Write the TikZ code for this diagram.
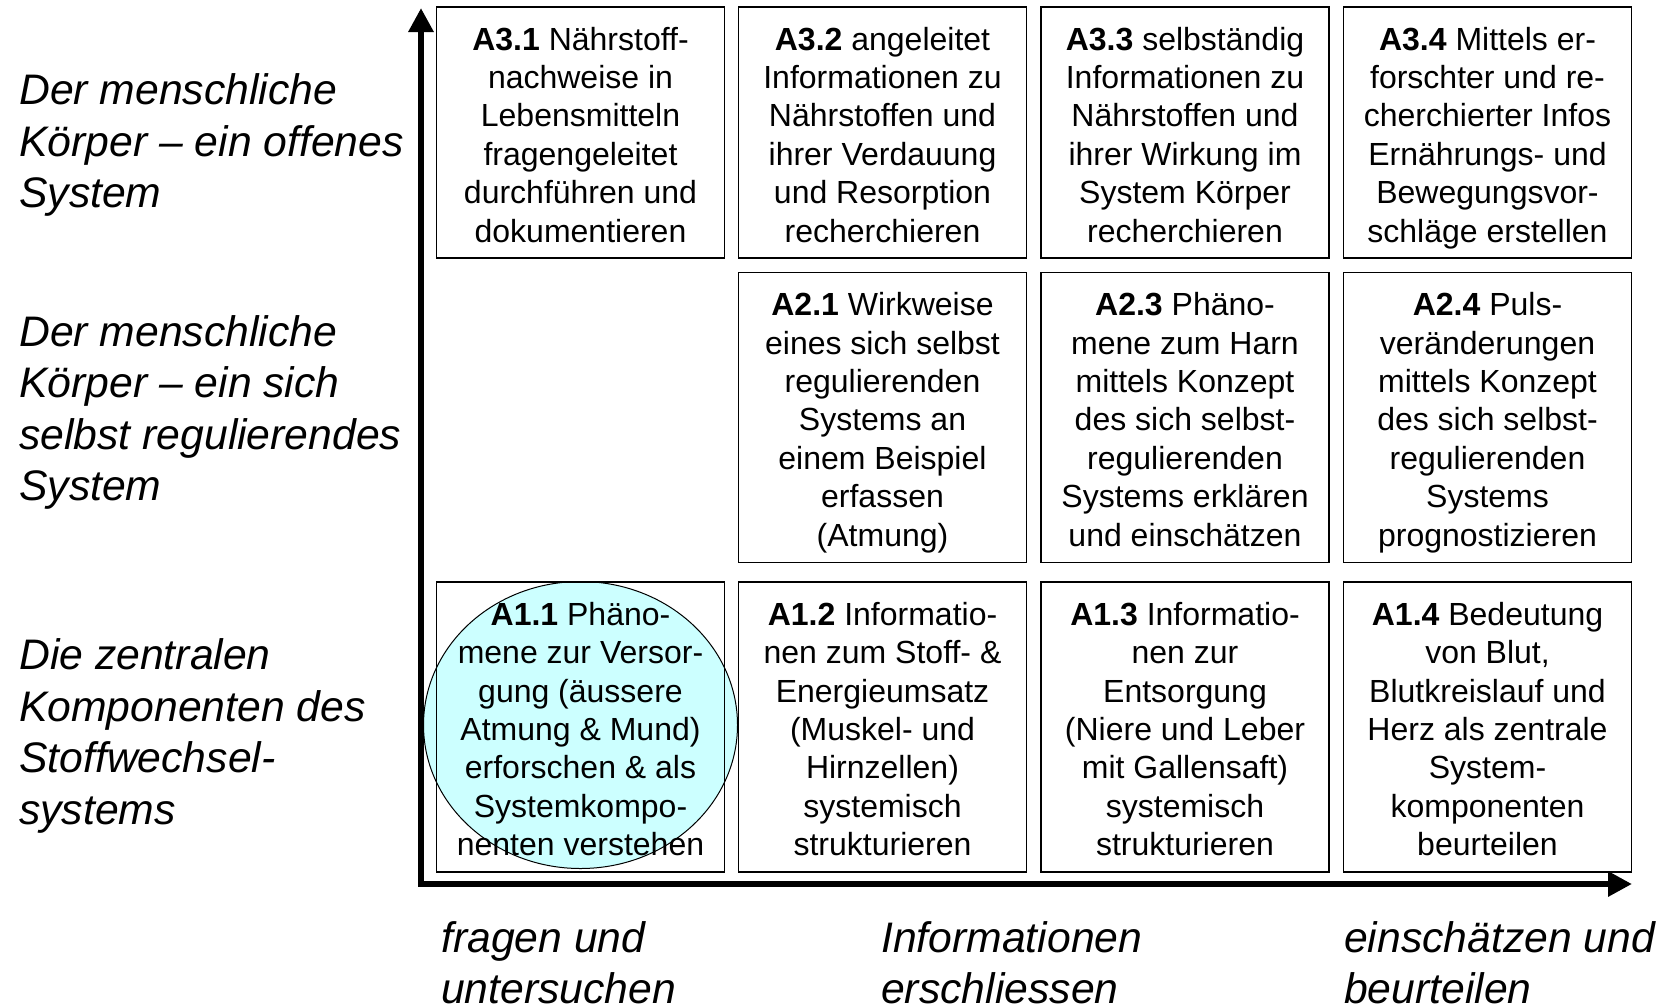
\documentclass[tikz,border=0pt]{standalone}
\usepackage{fontspec}
\setmainfont{Liberation Sans}
\usetikzlibrary{arrows.meta,shapes.geometric}
\definecolor{lightcyan}{HTML}{CCFFFF}
\begin{document}
\begin{tikzpicture}[x=1pt,y=-1pt,
  cell/.style={draw=black, line width=1.8pt, minimum width=288pt, minimum height=251pt,
    inner sep=0pt, outer sep=0pt},
  lowcell/.style={cell, minimum height=290pt},
  celltext/.style={anchor=north, align=center, inner sep=0pt, outer sep=0pt,
    font=\fontsize{32}{38.4}\selectfont,
    execute at begin node={\rule{0pt}{32pt}}},
  rowlabel/.style={anchor=west, align=left, inner sep=0pt, font=\fontsize{42.7}{51.4}\selectfont\itshape},
  axisline/.style={line width=6pt, line cap=rect, -{Triangle[length=24pt,width=24pt]}},
  ]
\useasboundingbox (0,0) rectangle (1662,1005);

% highlight ellipse
\node[draw=black, line width=1pt, fill=lightcyan, ellipse, minimum width=314pt, minimum height=287pt, inner sep=0pt] (hl) at (580.5,725) {};

% axes
\coordinate (origin) at (421,884);
\coordinate (ytip) at (421,8);
\coordinate (xtip) at (1632,884);
\draw[axisline] (origin) -- (ytip);
\draw[axisline] (origin) -- (xtip);

% boxes
\node[cell] (a31) at (580.5,132.5) {};
\node[cell] (a32) at (882.5,132.5) {};
\node[cell] (a33) at (1185,132.5) {};
\node[cell] (a34) at (1487.5,132.5) {};
\node[lowcell] (a21) at (882.5,417.5) {};
\node[lowcell] (a23) at (1185,417.5) {};
\node[lowcell] (a24) at (1487.5,417.5) {};
\node[lowcell] (a11) at (580.5,727) {};
\node[lowcell] (a12) at (882.5,727) {};
\node[lowcell] (a13) at (1185,727) {};
\node[lowcell] (a14) at (1487.5,727) {};

% box texts
\node[celltext] (t31) at ([yshift=-20pt]a31.north) {\textbf{A3.1} Nährstoff-\\nachweise in\\Lebensmitteln\\fragengeleitet\\durchführen und\\dokumentieren};
\node[celltext] (t32) at ([yshift=-20pt]a32.north) {\textbf{A3.2} angeleitet\\Informationen zu\\Nährstoffen und\\ihrer Verdauung\\und Resorption\\recherchieren};
\node[celltext] (t33) at ([yshift=-20pt]a33.north) {\textbf{A3.3} selbständig\\Informationen zu\\Nährstoffen und\\ihrer Wirkung im\\System Körper\\recherchieren};
\node[celltext] (t34) at ([yshift=-20pt]a34.north) {\textbf{A3.4} Mittels er-\\forschter und re-\\cherchierter Infos\\Ernährungs- und\\Bewegungsvor-\\schläge erstellen};

\node[celltext] (t21) at ([yshift=-20pt]a21.north) {\textbf{A2.1} Wirkweise\\eines sich selbst\\regulierenden\\Systems an\\einem Beispiel\\erfassen\\(Atmung)};
\node[celltext] (t23) at ([yshift=-20pt]a23.north) {\textbf{A2.3} Phäno-\\mene zum Harn\\mittels Konzept\\des sich selbst-\\regulierenden\\Systems erklären\\und einschätzen};
\node[celltext] (t24) at ([yshift=-20pt]a24.north) {\textbf{A2.4} Puls-\\veränderungen\\mittels Konzept\\des sich selbst-\\regulierenden\\Systems\\prognostizieren};

\node[celltext] (t11) at ([yshift=-20pt]a11.north) {\textbf{A1.1} Phäno-\\mene zur Versor-\\gung (äussere\\Atmung \& Mund)\\erforschen \& als\\Systemkompo-\\nenten verstehen};
\node[celltext] (t12) at ([yshift=-20pt]a12.north) {\textbf{A1.2} Informatio-\\nen zum Stoff- \&\\Energieumsatz\\(Muskel- und\\Hirnzellen)\\systemisch\\strukturieren};
\node[celltext] (t13) at ([yshift=-20pt]a13.north) {\textbf{A1.3} Informatio-\\nen zur\\Entsorgung\\(Niere und Leber\\mit Gallensaft)\\systemisch\\strukturieren};
\node[celltext] (t14) at ([yshift=-20pt]a14.north) {\textbf{A1.4} Bedeutung\\von Blut,\\Blutkreislauf und\\Herz als zentrale\\System-\\komponenten\\beurteilen};

% row labels
\node[rowlabel] (l3) at (19,145) {Der menschliche\\Körper – ein offenes\\System};
\node[rowlabel] (l2) at (19,412.5) {Der menschliche\\Körper – ein sich\\selbst regulierendes\\System};
\node[rowlabel] (l1) at (19,736) {Die zentralen\\Komponenten des\\Stoffwechsel-\\systems};

% column labels
\node[rowlabel] (c1) at (441,962.5) {fragen und\\untersuchen};
\node[rowlabel] (c2) at (881,962.5) {Informationen\\erschliessen};
\node[rowlabel] (c3) at (1344,962.5) {einschätzen und\\beurteilen};
\end{tikzpicture}
\end{document}
